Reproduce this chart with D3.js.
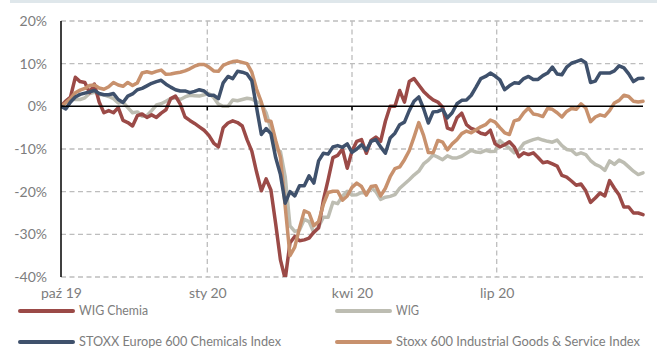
<!DOCTYPE html>
<html><head><meta charset="utf-8">
<script src="https://cdn.jsdelivr.net/npm/d3@7"></script>
<style>
body{margin:0;background:#fff;}
svg{display:block;font-family:Lato,sans-serif;}
</style></head>
<body><svg id="c" width="657" height="349"></svg>
<script>
// ---- data ----
const startDate = "2019-10-01";
const endDate = "2020-10-01";
const stepDays = 3;
const seriesNames = ["WIG Chemia","WIG","STOXX Europe 600 Chemicals Index","Stoxx 600 Industrial Goods & Service Index"];
const seriesColors = ["#9b4a47","#bdbdb2","#3f516c","#c8916d"];
const wigChemia = [0,1.2,2.2,6.8,5.8,5.6,3.2,5.2,1.0,-1.5,-1.0,-1.5,-0.3,-3.3,-3.8,-4.6,-2.2,-1.8,-2.6,-2.0,-2.6,-1.6,-0.8,1.8,2.4,0.5,-2.5,-3.3,-4.0,-4.8,-5.6,-6.8,-8.6,-9.5,-5.0,-3.9,-3.4,-3.8,-4.6,-7.8,-10.5,-15.4,-19.8,-17,-19.6,-27.5,-36,-40.5,-32,-30.5,-31.5,-31.3,-30.9,-29.5,-28.5,-22,-17.2,-12,-11.5,-10,-14.5,-10.5,-8.2,-7.8,-11,-8,-7.2,-8.2,-3.5,0,0,3.7,1.0,5.8,6.5,5.0,3.5,2.4,1.5,1.0,-0.2,-5.1,-5.5,-2.7,-1.6,-4.3,-5.2,-5.6,-6.3,-6.6,-5.6,-8.8,-9.5,-9,-8.3,-9.5,-11.8,-10.9,-11.3,-10.9,-12,-13.2,-13,-13.5,-14,-16.2,-16.6,-17.5,-18.5,-18.2,-19.8,-22.5,-21.5,-20.3,-21,-17.4,-19.2,-20.8,-23.6,-23.6,-25,-25,-25.4];
const wig = [0,1.3,2.0,1.6,1.6,2.0,3.0,3.3,2.8,2.7,2.3,1.8,0.8,1.0,-0.3,-1.5,-1.3,-2.3,-2.2,-1.0,0.3,0.6,1.2,1.8,2.0,1.6,2.2,2.6,2.5,2.4,2.7,3.0,2.1,0.5,0,0,1.5,1.3,1.6,1.9,1.7,1.1,0.6,-1.5,-5.3,-10,-10.6,-16.5,-28,-29.3,-29,-26.5,-27,-29.6,-28.2,-26,-26,-22.5,-22.8,-21,-19.9,-20.8,-20.7,-20.2,-20.4,-19.1,-20,-21.8,-21.3,-21.1,-20.7,-19.2,-18.2,-17.2,-16.1,-15.2,-13.5,-12.6,-11.4,-11.9,-12.5,-11.6,-12.1,-12.1,-11.7,-11,-10.3,-10.7,-10.8,-10.3,-10.6,-10.5,-8,-9,-9.8,-10.9,-10.2,-8.7,-8.2,-7.8,-7.5,-7.9,-8.2,-8.4,-7.9,-9.2,-10.1,-10.3,-11.3,-10.9,-11.3,-12.7,-13.6,-14.1,-15,-12.8,-13.6,-12.6,-13.2,-14.2,-15.2,-16,-15.6];
const stoxxChem = [0,-0.6,1.0,2.2,2.8,3.1,3.4,3.7,3.0,2.7,2.7,3.0,1.6,0.9,2.4,2.9,3.9,4.2,4.8,5.4,5.8,6.1,5.2,4.5,3.9,3.6,3.6,3.2,3.5,3.9,3.6,2.6,2.6,1.8,5.5,7,6.5,8.2,8,7.6,6,-0.3,-6.6,-5.2,-6.4,-12,-16,-22.7,-20,-21,-18.6,-18.6,-16.3,-18,-12.8,-11,-11.2,-9.5,-9.2,-9.6,-8.8,-10.8,-10,-9,-10.3,-8.2,-7.8,-9.5,-11,-7.4,-6.3,-4.3,-3.7,-1,1.2,2.2,-0.5,-3.9,-1.3,-1.2,-0.7,-2.7,-1.5,0.6,1.4,1.5,2.6,4.5,6.5,7.0,7.8,7.1,6.2,3.9,4.8,5.5,5.4,6.5,7,6.3,6.3,7.2,7.8,9.2,7.6,7.4,9.2,10.1,10.5,10.9,10.2,5.6,5.9,7.8,7.8,7.8,8.3,9.5,9,7.6,5.8,6.5,6.6];
const stoxxIndustrial = [0,0.8,1.8,3.2,3.8,4.2,4.9,5.0,4.3,4.0,4.6,5.6,5.0,4.7,5.6,4.9,5.5,7.8,8.1,7.8,8.2,8.5,7.5,7.6,7.8,8.0,8.3,8.8,9.4,9.8,9.8,9.2,8.3,8.2,9.6,10.1,10.5,10.6,10.3,10.0,8.0,4.0,1.0,-3.4,-3.5,-8.0,-12,-23.5,-35,-33,-28.5,-24.5,-25,-28,-27,-23,-20.2,-19.9,-19.9,-22,-21,-19,-18,-18.8,-20.8,-18.8,-18.6,-21,-19.2,-16.5,-14.6,-14.2,-12.5,-10.4,-7.2,-3.8,-6.8,-10.8,-10.9,-8.0,-8.4,-10.2,-8.8,-7.8,-6.4,-5.8,-6.2,-5.5,-4.8,-4.3,-3.2,-3.7,-5,-6.2,-6.6,-3.4,-3.1,-1.5,-0.4,-1.8,-2,-2.4,-0.5,-0.7,-1.5,-2.5,-1.2,-0.5,-0.7,0.6,-0.4,-3.6,-2.5,-2,-2.3,-1.0,0.8,1.4,2.6,2.3,1.2,1.0,1.2];
const yTicks = [20,10,0,-10,-20,-30,-40];
const xTickDates = ["2019-10-01","2020-01-01","2020-04-01","2020-07-01"];
const xTickLabels = ["paź 19","sty 20","kwi 20","lip 20"];

// ---- chart ----
const parse = d3.timeParse("%Y-%m-%d");
const t0 = parse(startDate);
const dates = wig.map((_, i) => d3.timeDay.offset(t0, i * stepDays));
const allSeries = [wigChemia, wig, stoxxChem, stoxxIndustrial];

const svg = d3.select("#c");
const L = 61, R = 643, T = 21, B = 277;
const x = d3.scaleTime().domain([parse(startDate), parse(endDate)]).range([L, R]);
const y = d3.scaleLinear().domain([-40, 20]).range([B, T]);
const txtColor = "#7d7d7d", fs = "14px";

// top band
svg.append("rect").attr("x", 10).attr("y", 0).attr("width", 647).attr("height", 3).attr("fill", "#dfe7eb");

// horizontal grid
svg.append("g").selectAll("line").data(yTicks.filter(d => d !== 0)).join("line")
  .attr("x1", L).attr("x2", R).attr("y1", d => y(d)).attr("y2", d => y(d))
  .attr("stroke", "#bdbdbd").attr("stroke-width", 1.3).attr("stroke-dasharray", "5,3.5");
// vertical grid
svg.append("g").selectAll("line").data(xTickDates.slice(1)).join("line")
  .attr("x1", d => x(parse(d))).attr("x2", d => x(parse(d))).attr("y1", T).attr("y2", B)
  .attr("stroke", "#bdbdbd").attr("stroke-width", 1.3).attr("stroke-dasharray", "5,3.5");

// y labels
const yAxis = svg.append("g").attr("transform", `translate(${L},0)`)
  .call(d3.axisLeft(y).tickValues(yTicks).tickFormat(d => d + "%").tickSize(0).tickPadding(14));
yAxis.select(".domain").remove();
yAxis.selectAll("text").attr("fill", txtColor).style("font-size", fs).style("font-family", "Lato");

// x labels
const xAxis = svg.append("g").attr("transform", `translate(0,${B})`)
  .call(d3.axisBottom(x).tickValues(xTickDates.map(parse)).tickFormat((d, i) => xTickLabels[i]).tickSize(0).tickPadding(11));
xAxis.select(".domain").remove();
xAxis.selectAll("text").attr("fill", txtColor).style("font-size", fs).style("font-family", "Lato");

// clip
svg.append("clipPath").attr("id", "clip").append("rect").attr("x", L).attr("y", T - 5).attr("width", R - L + 3).attr("height", B - T + 5);

const line = d3.line().x((d, i) => x(dates[i])).y(d => y(d)).curve(d3.curveLinear);
const order = [1, 0, 3, 2];
svg.append("g").attr("clip-path", "url(#clip)").selectAll("path").data(order).join("path")
  .attr("d", k => line(allSeries[k]))
  .attr("fill", "none").attr("stroke", k => seriesColors[k])
  .attr("stroke-width", 3.5).attr("stroke-linejoin", "round").attr("stroke-linecap", "round");

// zero line
svg.append("line").attr("x1", L).attr("x2", R).attr("y1", y(0)).attr("y2", y(0)).attr("stroke", "#000").attr("stroke-width", 1.5);
// ticks on zero line
svg.append("g").selectAll("line").data(xTickDates.slice(1)).join("line")
  .attr("x1", d => x(parse(d))).attr("x2", d => x(parse(d))).attr("y1", y(0)).attr("y2", y(0) + 4)
  .attr("stroke", "#000").attr("stroke-width", 1.5);
// left axis
svg.append("line").attr("x1", L).attr("x2", L).attr("y1", T).attr("y2", B).attr("stroke", "#000").attr("stroke-width", 1.5);

// legend
const legPos = [[20, 311], [337, 311], [20, 342], [337, 342]];
const legWidths = [69, 23, 202, 244];
const leg = svg.append("g").selectAll("g").data(seriesNames).join("g")
  .attr("transform", (d, i) => `translate(${legPos[i][0]},${legPos[i][1]})`);
leg.append("line").attr("x1", 0).attr("x2", 53).attr("y1", 0).attr("y2", 0)
  .attr("stroke", (d, i) => seriesColors[i]).attr("stroke-width", 4).attr("stroke-linecap", "round");
leg.append("text").attr("x", 59).attr("y", 0).attr("dy", "0.3em").text(d => d)
  .attr("textLength", (d, i) => legWidths[i]).attr("lengthAdjust", "spacingAndGlyphs")
  .attr("fill", txtColor).style("font-size", "12.5px");
</script></body></html>
